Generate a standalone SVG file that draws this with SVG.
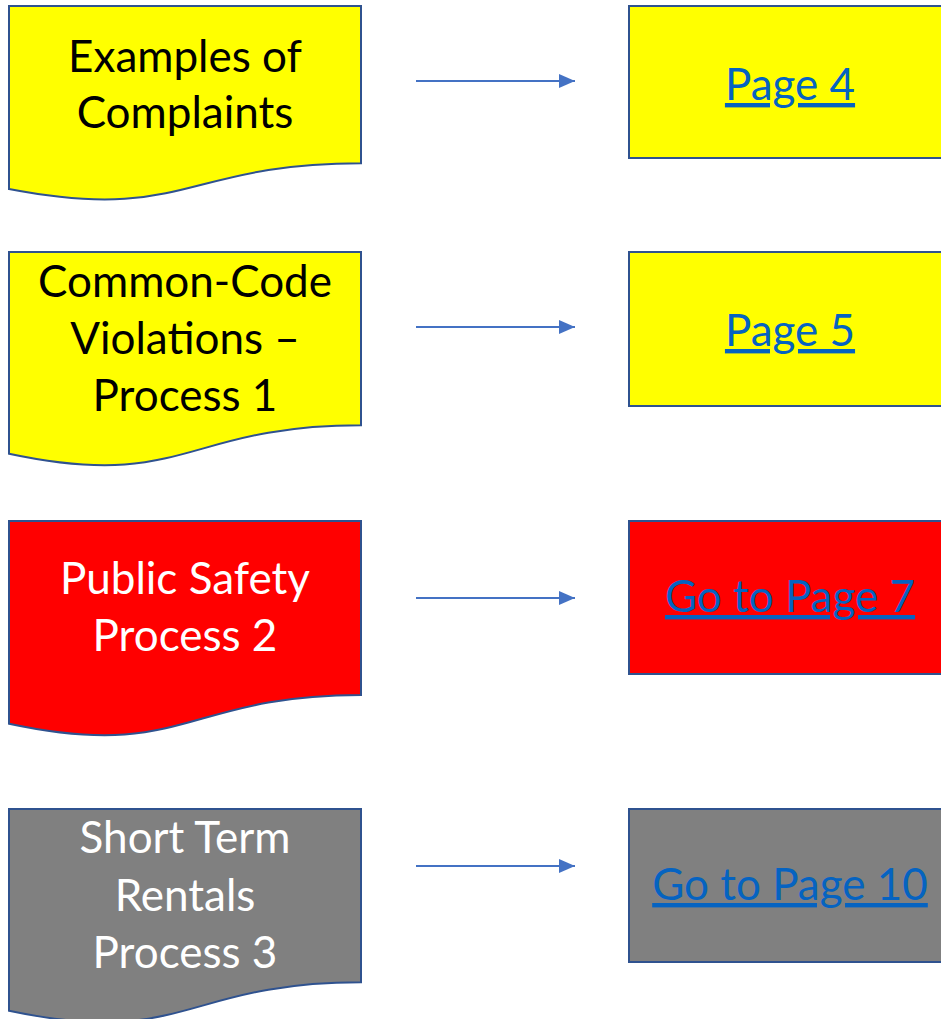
<svg xmlns="http://www.w3.org/2000/svg" width="941" height="1019" viewBox="0 0 941 1019">
  <style>
    .doc, .box { stroke: #2F528F; stroke-width: 2; }
    .yellow { fill: #FFFF00; }
    .red { fill: #FF0000; }
    .gray { fill: #808080; }
    .label { font-family: "Lato", "Liberation Sans", sans-serif; font-size: 44px; text-anchor: middle; }
    .dark { fill: #000000; }
    .light { fill: #FFFFFF; }
    .link { fill: #0563C1; text-decoration: underline; }
    .conn { stroke: #4472C4; stroke-width: 2; fill: none; }
  </style>
  <defs>
    <marker id="arrow" markerUnits="userSpaceOnUse" markerWidth="16" markerHeight="14" viewBox="0 0 16 14" refX="16" refY="7" orient="auto">
      <path d="M0,0 L16,7 L0,14 Z" fill="#4472C4"/>
    </marker>
  </defs>

  <!-- connectors -->
  <g id="connectors">
    <line class="conn" x1="416" y1="81" x2="575" y2="81" marker-end="url(#arrow)"/>
    <line class="conn" x1="416" y1="327" x2="575" y2="327" marker-end="url(#arrow)"/>
    <line class="conn" x1="416" y1="598" x2="575" y2="598" marker-end="url(#arrow)"/>
    <line class="conn" x1="416" y1="866" x2="575" y2="866" marker-end="url(#arrow)"/>
  </g>

  <!-- document shapes -->
  <g id="complaints">
    <path class="doc yellow" d="M9,6 H361 V163.2 C185,163.2 185,223.1 9,189.1 Z"/>
    <text class="label dark" x="185" y="72">Examples of</text>
    <text class="label dark" x="185" y="128">Complaints</text>
  </g>
  <g id="process1">
    <path class="doc yellow" d="M9,252 H361 V425.2 C185,425.2 185,491.2 9,453.7 Z"/>
    <text class="label dark" x="185" y="297">Common-Code</text>
    <text class="label dark" x="185" y="354">Violations –</text>
    <text class="label dark" x="185" y="411">Process 1</text>
  </g>
  <g id="process2">
    <path class="doc red" d="M9,521 H361 V695 C185,695 185,761.3 9,723.7 Z"/>
    <text class="label light" x="185" y="594">Public Safety</text>
    <text class="label light" x="185" y="651">Process 2</text>
  </g>
  <g id="process3">
    <path class="doc gray" d="M9,809 H361 V982.2 C185,982.2 185,1048.2 9,1010.7 Z"/>
    <text class="label light" x="185" y="853">Short Term</text>
    <text class="label light" x="185" y="911">Rentals</text>
    <text class="label light" x="185" y="968">Process 3</text>
  </g>

  <!-- page links -->
  <g id="page4">
    <rect class="box yellow" x="629" y="6" width="330" height="152"/>
    <text class="label link" x="790" y="100">Page 4</text>
  </g>
  <g id="page5">
    <rect class="box yellow" x="629" y="252" width="330" height="154"/>
    <text class="label link" x="790" y="346">Page 5</text>
  </g>
  <g id="page7">
    <rect class="box red" x="629" y="521" width="330" height="153"/>
    <text class="label link" x="790" y="612">Go to Page 7</text>
  </g>
  <g id="page10">
    <rect class="box gray" x="629" y="809" width="330" height="153"/>
    <text class="label link" x="790" y="900">Go to Page 10</text>
  </g>
</svg>
